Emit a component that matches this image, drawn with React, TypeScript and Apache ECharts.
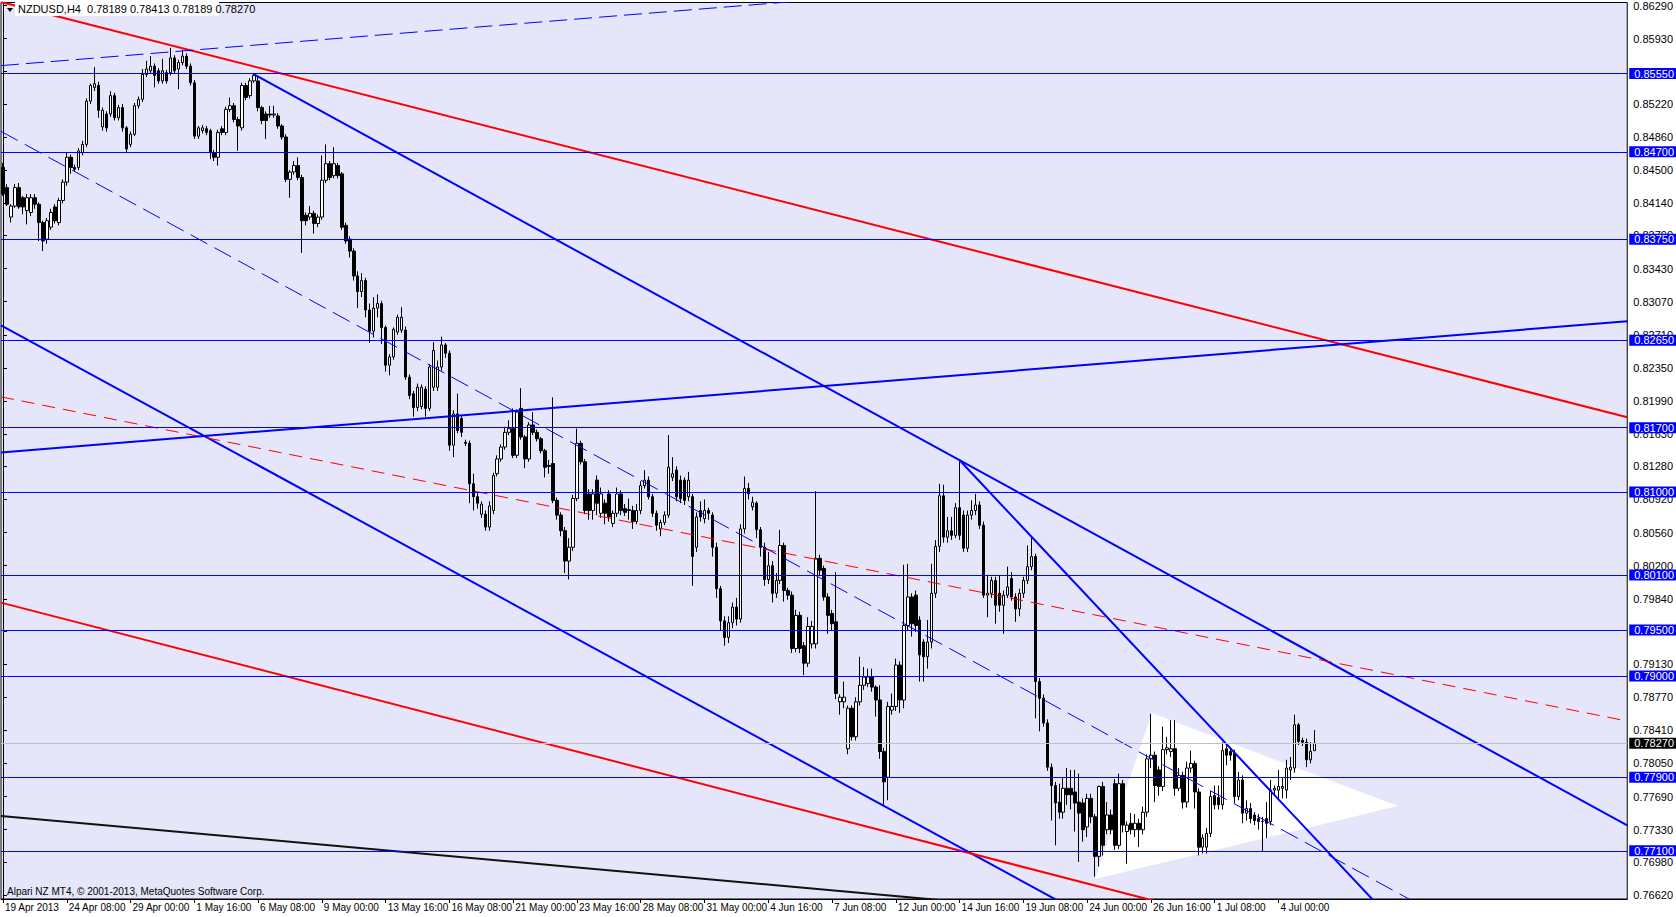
import React, { useEffect, useRef } from "react";
import * as echarts from "echarts";

const FONT = '"Liberation Sans Narrow", "Liberation Sans", Arial, sans-serif';
const SLOTS = 408; // bar slots across the plot (incl. empty future space)
const LABEL_STEP = 16;

const DATE_LABELS = [
  "19 Apr 2013", "24 Apr 08:00", "29 Apr 00:00", "1 May 16:00", "6 May 08:00",
  "9 May 00:00", "13 May 16:00", "16 May 08:00", "21 May 00:00", "23 May 16:00",
  "28 May 08:00", "31 May 00:00", "4 Jun 16:00", "7 Jun 08:00", "12 Jun 00:00",
  "14 Jun 16:00", "19 Jun 08:00", "24 Jun 00:00", "26 Jun 16:00", "1 Jul 08:00",
  "4 Jul 00:00",
];

const PRICE_TICKS = [
  0.8629, 0.8593, 0.8557, 0.8522, 0.8486, 0.845, 0.8414, 0.8379, 0.8343, 0.8307,
  0.8271, 0.8235, 0.8199, 0.8163, 0.8128, 0.8092, 0.8056, 0.802, 0.7984, 0.7949,
  0.7913, 0.7877, 0.7841, 0.7805, 0.7769, 0.7733, 0.7698, 0.7662,
];

const Y_MAX = 0.863226;
const Y_MIN = 0.765765;

const LEVELS = [0.8555, 0.847, 0.8375, 0.8265, 0.817, 0.81, 0.801, 0.795, 0.79, 0.779, 0.771];
const BID = 0.7827;

// H4 bars: [open, high, low, close] in 1/10000 of a dollar
const BARS_PIPS = [
  [8453,8458,8422,8424],[8431,8435,8411,8413],[8399,8413,8393,8411],[8411,8435,8409,8431],[8431,8436,8408,8410],
  [8420,8422,8402,8410],[8406,8424,8391,8420],[8404,8424,8400,8420],[8420,8424,8408,8413],[8413,8415,8373,8393],
  [8393,8395,8362,8373],[8375,8398,8370,8395],[8388,8408,8385,8404],[8410,8413,8392,8395],[8393,8420,8390,8417],
  [8417,8440,8414,8437],[8437,8469,8433,8464],[8464,8467,8446,8453],[8453,8456,8448,8451],[8453,8474,8450,8471],
  [8469,8482,8466,8478],[8478,8528,8475,8525],[8525,8544,8522,8542],[8540,8562,8536,8544],[8542,8546,8507,8515],
  [8497,8518,8493,8515],[8511,8514,8492,8496],[8511,8536,8508,8531],[8531,8534,8504,8507],[8507,8521,8504,8518],
  [8518,8522,8492,8496],[8496,8498,8469,8473],[8478,8492,8475,8489],[8489,8523,8487,8520],[8520,8530,8517,8527],
  [8527,8560,8524,8554],[8554,8569,8551,8560],[8558,8574,8555,8563],[8563,8566,8540,8553],[8558,8561,8544,8547],
  [8547,8571,8544,8558],[8556,8559,8544,8547],[8556,8583,8553,8572],[8572,8575,8555,8558],[8560,8570,8538,8567],
  [8567,8581,8564,8574],[8574,8577,8560,8563],[8563,8566,8542,8545],[8545,8548,8484,8487],[8487,8498,8484,8496],
  [8493,8499,8490,8496],[8495,8498,8488,8491],[8493,8495,8462,8469],[8469,8472,8460,8464],[8464,8494,8455,8491],
  [8495,8498,8488,8491],[8491,8519,8488,8516],[8516,8529,8513,8520],[8520,8523,8502,8505],[8505,8508,8471,8498],
  [8496,8545,8493,8542],[8542,8545,8526,8529],[8531,8550,8528,8547],[8547,8555,8545,8553],[8547,8552,8514,8518],
  [8518,8520,8500,8504],[8511,8514,8484,8504],[8511,8520,8507,8510],[8510,8520,8507,8511],[8509,8512,8495,8498],
  [8498,8500,8483,8486],[8486,8489,8437,8440],[8440,8450,8420,8448],[8448,8460,8445,8455],[8455,8464,8439,8442],
  [8442,8445,8360,8395],[8401,8404,8390,8395],[8399,8411,8396,8403],[8403,8406,8381,8392],[8392,8402,8388,8399],
  [8399,8466,8396,8439],[8439,8478,8436,8457],[8457,8460,8439,8442],[8444,8475,8441,8457],[8455,8458,8441,8444],
  [8446,8448,8385,8388],[8390,8393,8370,8373],[8375,8378,8355,8362],[8362,8365,8330,8335],[8335,8340,8300,8318],
  [8318,8338,8312,8330],[8330,8333,8290,8298],[8298,8305,8262,8275],[8275,8312,8268,8300],[8300,8315,8290,8305],
  [8305,8308,8261,8279],[8279,8281,8231,8238],[8238,8250,8227,8247],[8247,8279,8244,8277],[8274,8293,8271,8290],
  [8276,8301,8273,8290],[8276,8280,8222,8225],[8225,8228,8201,8205],[8207,8210,8182,8192],[8192,8218,8188,8214],
  [8193,8217,8190,8214],[8212,8215,8182,8191],[8191,8239,8188,8236],[8214,8263,8210,8254],[8214,8243,8210,8236],
  [8236,8269,8232,8260],[8260,8262,8246,8251],[8251,8254,8145,8151],[8151,8189,8138,8185],[8185,8207,8164,8167],
  [8180,8183,8160,8165],[8154,8157,8150,8153],[8153,8156,8088,8109],[8109,8120,8080,8095],[8095,8100,8082,8088],
  [8076,8090,8072,8087],[8076,8080,8058,8062],[8062,8090,8058,8085],[8080,8121,8076,8118],[8120,8140,8117,8136],
  [8136,8152,8133,8149],[8149,8171,8146,8165],[8165,8178,8162,8169],[8169,8191,8137,8140],[8140,8190,8137,8187],
  [8191,8213,8157,8160],[8160,8162,8126,8136],[8136,8176,8133,8173],[8173,8187,8162,8165],[8165,8168,8155,8158],
  [8158,8160,8142,8145],[8145,8147,8116,8127],[8129,8135,8120,8128],[8131,8203,8088,8091],[8091,8094,8070,8075],
  [8075,8078,8052,8058],[8058,8062,8012,8025],[8025,8050,8005,8040],[8040,8097,8036,8093],[8093,8169,8090,8153],
  [8153,8156,8130,8133],[8133,8136,8076,8080],[8098,8103,8070,8080],[8080,8103,8070,8098],[8113,8118,8075,8088],
  [8077,8105,8072,8098],[8088,8092,8065,8077],[8098,8102,8068,8073],[8066,8080,8062,8077],[8077,8105,8073,8098],
  [8098,8102,8075,8080],[8082,8087,8074,8078],[8080,8093,8070,8081],[8080,8085,8060,8068],[8068,8087,8065,8080],
  [8080,8112,8076,8107],[8107,8124,8104,8113],[8113,8117,8092,8095],[8095,8098,8073,8077],[8077,8080,8058,8064],
  [8060,8070,8052,8067],[8067,8079,8064,8075],[8075,8162,8072,8127],[8116,8138,8112,8120],[8124,8128,8090,8095],
  [8113,8118,8088,8093],[8113,8116,8086,8091],[8095,8122,8090,8113],[8095,8098,7998,8030],[8040,8078,8035,8073],
  [8080,8090,8068,8073],[8071,8092,8066,8080],[8080,8083,8070,8077],[8075,8078,8030,8040],[8040,8045,7985,7995],
  [7995,7998,7950,7960],[7960,7965,7933,7942],[7942,7965,7936,7958],[7958,7980,7952,7975],[7975,7985,7955,7962],
  [7962,8065,7958,8060],[8060,8117,8055,8104],[8104,8110,8092,8098],[8084,8095,8080,8089],[8088,8090,8050,8059],
  [8059,8062,8030,8040],[8040,8045,7998,8005],[8005,8035,8000,8020],[8020,8025,7980,7990],[7990,8012,7985,8004],
  [8004,8059,8000,8042],[8042,8045,7981,7993],[7993,7996,7983,7988],[7988,7992,7925,7930],[7930,7972,7926,7966],
  [7966,7970,7925,7930],[7933,7937,7901,7914],[7914,7964,7910,7954],[7935,7960,7930,7954],[7935,8101,7930,8028],
  [8028,8032,8010,8015],[8017,8020,7982,7986],[7986,7990,7946,7966],[7968,7972,7950,7957],[7959,8013,7875,7881],
  [7872,7880,7858,7877],[7872,7894,7865,7877],[7821,7868,7815,7865],[7865,7868,7830,7834],[7834,7877,7830,7872],
  [7872,7921,7868,7890],[7890,7910,7885,7899],[7892,7908,7888,7899],[7899,7908,7883,7888],[7888,7890,7856,7874],
  [7874,7890,7810,7818],[7818,7822,7760,7785],[7790,7872,7765,7867],[7863,7881,7858,7867],[7867,7919,7862,7912],
  [7912,7916,7860,7874],[7874,8021,7865,7955],[7955,8022,7950,7986],[7986,7990,7943,7957],[7988,7993,7948,7955],
  [7961,7965,7894,7923],[7937,7940,7894,7921],[7921,7961,7908,7937],[7937,8022,7930,7990],[7990,8048,7985,8041],
  [8041,8109,8035,8096],[8096,8108,8045,8051],[8051,8073,8045,8058],[8058,8073,8048,8053],[8053,8088,8050,8083],
  [8083,8135,8048,8053],[8075,8080,8035,8039],[8039,8080,8035,8075],[8075,8091,8070,8080],[8080,8098,8075,8086],
  [8086,8090,8060,8064],[8064,8068,7985,7988],[7988,8010,7964,7990],[7990,8008,7985,8004],[8004,8008,7957,7977],
  [7990,8010,7970,7977],[7977,7993,7946,7988],[7988,8019,7985,7997],[8006,8013,7982,7986],[7986,7990,7959,7973],
  [7973,7995,7965,7990],[7990,8008,7985,8004],[8004,8042,8000,8019],[8019,8051,8015,8030],[8030,8033,7854,7894],
  [7894,7898,7840,7876],[7876,7880,7845,7849],[7849,7853,7797,7801],[7801,7805,7743,7781],[7781,7785,7716,7762],
  [7763,7783,7745,7752],[7752,7789,7745,7778],[7778,7800,7760,7771],[7778,7798,7755,7771],[7774,7798,7731,7762],
  [7763,7794,7698,7751],[7762,7767,7720,7733],[7736,7772,7725,7767],[7767,7772,7740,7747],[7747,7750,7682,7704],
  [7704,7781,7693,7780],[7780,7785,7705,7716],[7733,7763,7728,7749],[7749,7755,7728,7733],[7783,7788,7711,7716],
  [7716,7794,7712,7783],[7783,7787,7730,7738],[7731,7742,7696,7738],[7740,7751,7728,7733],[7733,7750,7725,7740],
  [7740,7745,7714,7733],[7733,7758,7728,7752],[7752,7815,7747,7810],[7810,7859,7800,7814],[7814,7818,7763,7781],
  [7798,7802,7770,7780],[7780,7845,7775,7820],[7820,7834,7815,7822],[7818,7852,7812,7821],[7821,7852,7770,7778],
  [7778,7800,7775,7792],[7792,7796,7756,7763],[7763,7807,7757,7800],[7800,7819,7795,7805],[7805,7808,7756,7774],
  [7774,7778,7705,7714],[7714,7728,7707,7724],[7714,7735,7707,7729],[7729,7775,7725,7769],[7770,7781,7755,7760],
  [7768,7781,7755,7760],[7760,7828,7755,7819],[7821,7825,7803,7814],[7818,7822,7808,7814],[7816,7820,7762,7769],
  [7769,7796,7765,7787],[7787,7792,7740,7751],[7751,7765,7743,7756],[7756,7762,7740,7745],[7749,7752,7738,7743],
  [7745,7750,7733,7742],[7742,7747,7709,7742],[7745,7763,7724,7740],[7742,7787,7738,7776],[7776,7781,7770,7778],
  [7776,7798,7765,7780],[7778,7789,7767,7780],[7776,7809,7767,7800],[7798,7812,7787,7801],[7800,7858,7795,7847],
  [7847,7849,7825,7829],[7830,7833,7824,7828],[7828,7832,7801,7809],[7809,7828,7805,7818],[7818.9,7841.3,7818.9,7827],
];

// Trend lines: [barIndexA, priceA, barIndexB, priceB]
const RED_UPPER = [1, 0.86312, 407.5, 0.81814];
const BLUE_DASH_UPPER = [0, 0.85638, 99.25, 0.85986];
const BLUE_MAIN = [63, 0.8554, 240, 0.81346];
const BLUE_STEEP = [240, 0.81346, 343.25, 0.76588];
const BLUE_LOWER = [0, 0.82802, 227.5, 0.77435];
const BLUE_RISING = [0, 0.81433, 407.5, 0.82857];
const RED_LOWER = [0, 0.79793, 286, 0.76588];
const BLACK_LOWER = [11, 0.77435, 223.5, 0.7661];
const RED_DASH = [0, 0.82031, 407.5, 0.78511];
const BLUE_DASH = [0, 0.8491, 352.25, 0.76588];

// Triangle object: [barIndex, price]
const TRIANGLE = [[274, 0.76794], [288.25, 0.78598], [350, 0.77587]];

function lineData(a: number[], ray: boolean) {
  const [i1, p1, i2, p2] = a;
  const k = (p2 - p1) / (i2 - i1);
  const xs = ray ? i1 : -0.5;
  const xe = SLOTS - 0.5;
  return [
    [xs, p1 + k * (xs - i1)],
    [xe, p1 + k * (xe - i1)],
  ];
}

export default function App() {
  const ref = useRef<HTMLDivElement>(null);

  useEffect(() => {
    document.body.style.margin = "0";
    if (!ref.current) return;
    const chart = echarts.init(ref.current, null, { renderer: "svg" });

    const cats = Array.from({ length: SLOTS }, (_, i) =>
      i % LABEL_STEP === 0 && i / LABEL_STEP < DATE_LABELS.length ? DATE_LABELS[i / LABEL_STEP] : ""
    );
    const showIdx = (i: number) => i % LABEL_STEP === 0 && i / LABEL_STEP < DATE_LABELS.length;

    const candles = BARS_PIPS.map(([o, h, l, c]) => [o / 1e4, c / 1e4, l / 1e4, h / 1e4]);

    const trends = [
      { a: RED_UPPER, color: "#FF0000", width: 2, ray: false, dash: "solid" as any },
      { a: BLUE_DASH_UPPER, color: "#0000FF", width: 1, ray: false, dash: [18, 7] },
      { a: BLUE_MAIN, color: "#0000FF", width: 2, ray: true, dash: "solid" },
      { a: BLUE_STEEP, color: "#0000FF", width: 2, ray: true, dash: "solid" },
      { a: BLUE_LOWER, color: "#0000FF", width: 2, ray: false, dash: "solid" },
      { a: RED_LOWER, color: "#FF0000", width: 2, ray: false, dash: "solid" },
      { a: BLACK_LOWER, color: "#111111", width: 2, ray: false, dash: "solid" },
      { a: RED_DASH, color: "#FF0000", width: 1, ray: false, dash: [13, 8] },
      { a: BLUE_DASH, color: "#0000FF", width: 1, ray: false, dash: [19, 8] },
    ];

    const levelLabel = (bg: string) => ({
      show: true,
      position: "end",
      distance: 2,
      color: "#FFFFFF",
      backgroundColor: bg,
      padding: [1, 6, 0, 5],
      fontSize: 11,
      lineHeight: 10,
      fontFamily: FONT,
    });

    const markData: any[] = LEVELS.map((v) => ({
      yAxis: v,
      lineStyle: { color: "#0000FF", width: 1, type: "solid" },
      label: { ...levelLabel("#0000FF"), formatter: v.toFixed(5) },
    }));
    markData.push({
      yAxis: BID,
      lineStyle: { color: "#C0C0C0", width: 1, type: "solid" },
      label: { ...levelLabel("#000000"), formatter: BID.toFixed(5) },
    });

    const series: any[] = [
      {
        type: "custom",
        xAxisIndex: 1,
        yAxisIndex: 0,
        z: 1,
        silent: true,
        data: [TRIANGLE[1]],
        renderItem: (_p: any, api: any) => ({
          type: "polygon",
          shape: { points: TRIANGLE.map((t) => api.coord(t)) },
          style: { fill: "#FFFFFF" },
        }),
      },
      {
        type: "candlestick",
        xAxisIndex: 0,
        yAxisIndex: 0,
        z: 2,
        barWidth: 3,
        silent: true,
        data: candles,
        itemStyle: {
          color: "#FFFFFF",
          color0: "#000000",
          borderColor: "#000000",
          borderColor0: "#000000",
          borderWidth: 1,
        },
      },
      ...trends.map((t) => ({
        type: "line",
        xAxisIndex: 1,
        yAxisIndex: 0,
        z: 3,
        silent: true,
        symbol: "none",
        showSymbol: false,
        clip: true,
        data: lineData(t.a, t.ray),
        lineStyle: { color: t.color, width: t.width, type: t.dash },
      })),
      {
        type: "line",
        xAxisIndex: 1,
        yAxisIndex: 0,
        z: 3,
        silent: true,
        symbol: "none",
        showSymbol: false,
        clip: true,
        data: lineData(BLUE_RISING, false),
        lineStyle: { color: "#0000FF", width: 2 },
        markLine: {
          silent: true,
          precision: 5,
          symbol: ["none", "none"],
          animation: false,
          data: markData,
        },
      },
    ];

    chart.setOption({
      animation: false,
      backgroundColor: "#FFFFFF",
      grid: {
        left: 1,
        right: 43,
        top: 2,
        bottom: 18,
        show: true,
        backgroundColor: "#E6E6FA",
        borderColor: "#000000",
        borderWidth: 1,
      },
      xAxis: [
        {
          type: "category",
          data: cats,
          boundaryGap: true,
          axisLine: { show: true, lineStyle: { color: "#000000" } },
          axisTick: {
            show: true,
            alignWithLabel: true,
            interval: (i: number) => showIdx(i),
            length: 4,
            lineStyle: { color: "#000000" },
          },
          axisLabel: {
            interval: (i: number) => showIdx(i),
            align: "left",
            margin: 3,
            padding: [0, 0, 0, 2],
            color: "#000000",
            fontSize: 10,
            fontFamily: FONT,
          },
          splitLine: { show: false },
        },
        { type: "value", min: -0.5, max: SLOTS - 0.5, show: false },
      ],
      yAxis: {
        type: "value",
        position: "right",
        min: Y_MIN,
        max: Y_MAX,
        axisLine: { show: true, lineStyle: { color: "#000000" } },
        axisTick: { show: true, length: 4, customValues: PRICE_TICKS, lineStyle: { color: "#000000" } },
        axisLabel: {
          customValues: PRICE_TICKS,
          formatter: (v: number) => v.toFixed(5),
          color: "#000000",
          fontSize: 11,
          fontFamily: FONT,
          margin: 6,
        },
        splitLine: { show: false },
      },
      graphic: [
        { type: "rect", z: 100, shape: { x: 15, y: 2, width: 204, height: 14 }, style: { fill: "#FFFFFF" } },
        { type: "polygon", z: 101, shape: { points: [[7, 8], [13, 8], [10, 12]] }, style: { fill: "#000000" } },
        {
          type: "text",
          z: 101,
          x: 18,
          y: 9,
          style: {
            text: "NZDUSD,H4  0.78189 0.78413 0.78189 0.78270",
            fill: "#000000",
            font: "11px " + FONT,
            verticalAlign: "middle",
          },
        },
        {
          type: "text",
          z: 101,
          x: 7,
          y: 891,
          style: {
            text: "Alpari NZ MT4, © 2001-2013, MetaQuotes Software Corp.",
            fill: "#000000",
            font: "10px " + FONT,
            verticalAlign: "middle",
          },
        },
      ],
      series,
    });

    return () => chart.dispose();
  }, []);

  return <div ref={ref} style={{ width: 1676, height: 917, overflow: "hidden" }} />;
}
